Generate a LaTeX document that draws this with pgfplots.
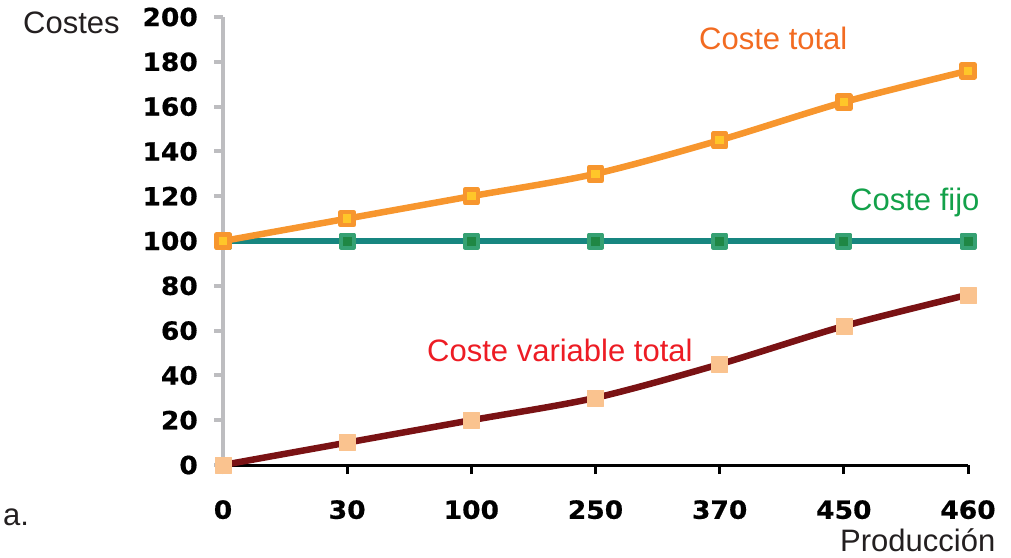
\documentclass[border=0pt]{standalone}
\usepackage{pgfplots}
\pgfplotsset{compat=1.18}
\usepackage{fontspec}
\setmainfont{Liberation Sans}
\newfontfamily\tickfont[BoldFeatures={FakeBold=0.6,FakeStretch=1.06}]{DejaVu Sans}
\definecolor{cTot}{HTML}{F7962E}
\definecolor{cTotIn}{HTML}{FFC629}
\definecolor{cFij}{HTML}{178680}
\definecolor{cFijOut}{HTML}{36A173}
\definecolor{cFijIn}{HTML}{1F8744}
\definecolor{cVar}{HTML}{7A1214}
\definecolor{cVarM}{HTML}{FAC38F}
\definecolor{tTot}{HTML}{F26B21}
\definecolor{tFij}{HTML}{13A14A}
\definecolor{tVar}{HTML}{ED1C24}
\definecolor{gAx}{HTML}{BDBDC0}
\definecolor{tDark}{HTML}{231F20}
\begin{document}
\begin{tikzpicture}[x=1pt,y=1pt]
\useasboundingbox (0,0) rectangle (1011,-557);
\begin{axis}[
  at={(223pt,-465pt)}, anchor=south west,
  scale only axis, width=745pt, height=448pt,
  xmin=0, xmax=6, ymin=0, ymax=200,
  clip=false,
  axis x line=bottom, axis y line=left,
  x axis line style={-, black, line width=3pt},
  y axis line style={-, gAx, line width=4pt},
  xtick={0,1,2,3,4,5,6},
  xticklabels={0,30,100,250,370,450,460},
  ytick={0,20,...,200},
  tick align=outside,
  major tick length=9pt,
  xtick style={black, line width=3pt},
  ytick style={gAx, line width=4pt},
  /pgf/number format/assume math mode=true,
  ticklabel style={font=\tickfont\bfseries\fontsize{25}{30}\selectfont, inner sep=0pt},
  xticklabel style={anchor=north, yshift=-26pt},
  yticklabel style={anchor=east, xshift=-16pt},
  line join=round,
]
\addplot[cFij, line width=6.5pt, mark=square*, mark size=6.5pt,
  mark options={fill=cFijIn, draw=cFijOut, line width=4pt}]
  coordinates {(0,100) (1,100) (2,100) (3,100) (4,100) (5,100) (6,100)};
\addplot[cVar, line width=6.5pt, smooth, tension=0.5, mark=square*, mark size=8pt,
  mark options={fill=cVarM, draw=cVarM, line width=0.5pt}]
  coordinates {(0,0) (1,10) (2,20) (3,30) (4,45) (5,62) (6,76)};
\addplot[cTot, line width=6.5pt, smooth, tension=0.5, mark=square*, mark size=6.5pt,
  mark options={fill=cTotIn, draw=cTot, line width=4.5pt}]
  coordinates {(0,100) (1,110) (2,120) (3,130) (4,145) (5,162) (6,176)};
\end{axis}
\begin{scope}[every node/.style={inner sep=0pt, font=\fontsize{31}{37}\selectfont}]
\node[anchor=base west, text=tDark] at (23,-33) {Costes};
\node[anchor=base west, text=tTot] at (699,-49.3) {Coste total};
\node[anchor=base west, text=tFij] at (850,-210) {Coste fijo};
\node[anchor=base west, text=tVar] at (427,-361) {Coste variable total};
\node[anchor=base west, text=tDark] at (840,-551) {Producción};
\node[anchor=base west, text=tDark] at (3,-525) {a.};
\end{scope}
\end{tikzpicture}
\end{document}
